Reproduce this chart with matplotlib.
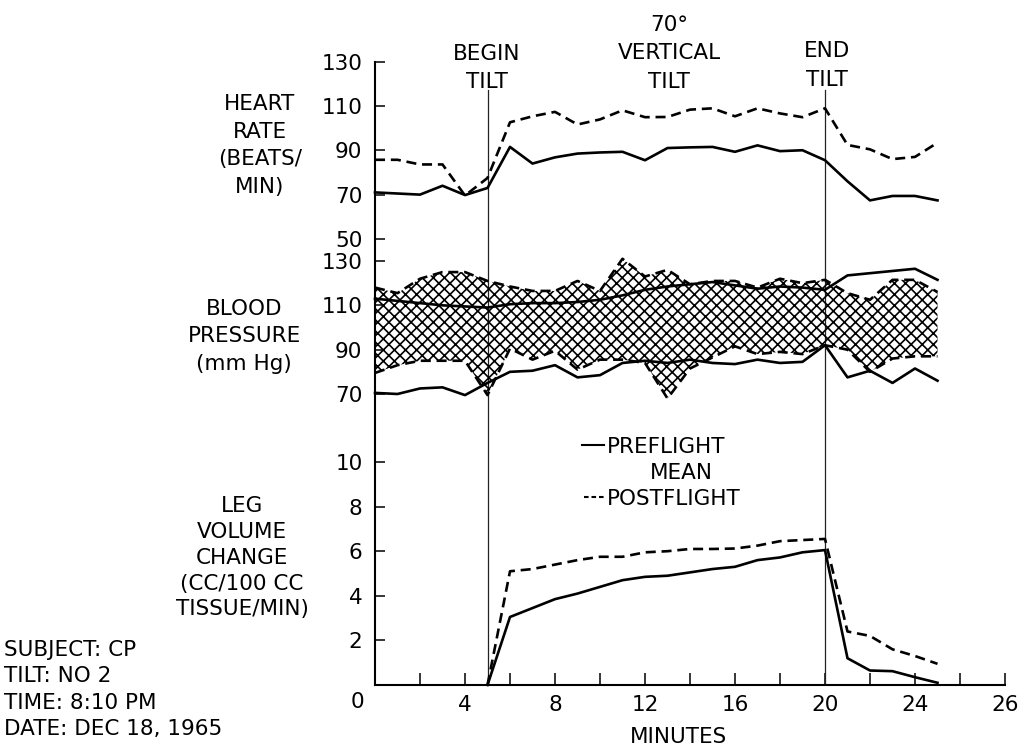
import numpy as np
import matplotlib.pyplot as plt
from matplotlib.lines import Line2D

plt.rcParams['font.family'] = ['DejaVu Sans']
plt.rcParams['hatch.linewidth'] = 1.2

# minutes of the record
minutes = np.arange(0, 26)
lv_minutes = np.arange(5, 26)

hr_pre = [71, 70.5, 70, 74, 69.8, 73, 91.5, 84, 86.8, 88.5, 89, 89.3, 85.5, 91,
          91.3, 91.5, 89.3, 92.2, 89.6, 90, 85.5, 76, 67.4, 69.4, 69.4, 67.4]
hr_post = [85.7, 85.7, 83.6, 83.6, 69.6, 77.5, 102.6, 105.3, 107.3, 101.6, 103.9, 108, 104.9,
           105, 108.3, 108.9, 105.3, 108.9, 106.6, 104.9, 108.9, 92.4, 90.4, 86, 87, 93.4]

bp_sys_pre = [113, 112, 111, 110, 109.5, 109, 110.5, 111, 111, 111.5, 112.5, 114.5, 117,
              118.5, 119.5, 120.5, 119, 117.5, 118.5, 118, 117, 123.5, 124.5, 125.5, 126.5, 121.5]
bp_dia_pre = [70.5, 70, 72.5, 73, 69.5, 75, 80, 80.5, 83, 77.5, 78.5, 84, 85, 84,
              85.5, 84, 83.5, 85.5, 84, 84.5, 92, 77.5, 80.5, 75, 81.5, 76]
bp_sys_post = [118, 115.5, 122, 125, 125, 121, 118.5, 116.5, 116.5, 121, 116.5, 131, 123,
               126, 119.5, 121, 121, 118, 122, 120, 121.5, 115.5, 112.5, 121.5, 121.5, 116]
bp_dia_post = [79.5, 83, 85, 85, 85, 69.5, 90.5, 85.5, 89.5, 81, 85.5, 85.5, 84, 68,
               81.5, 86.5, 91.5, 88, 89, 88, 92, 90, 80, 86, 87, 87]

lv_pre = [0, 3.05, 3.45, 3.85, 4.1, 4.4, 4.7, 4.85, 4.9, 5.05, 5.2, 5.3, 5.6, 5.72, 5.95,
          6.05, 1.2, 0.65, 0.62, 0.35, 0.1]
lv_post = [0, 5.1, 5.2, 5.4, 5.6, 5.75, 5.75, 5.95, 6.0, 6.1, 6.1, 6.12, 6.25, 6.45, 6.5,
           6.55, 2.4, 2.2, 1.6, 1.3, 0.95]

hr_ticks = [50, 70, 90, 110, 130]
bp_ticks = [70, 90, 110, 130]
lv_ticks = [2, 4, 6, 8, 10]
x_ticks = np.arange(0, 29, 2)
x_labels = ['', '', '4', '', '8', '', '12', '', '16', '', '20', '', '24', '', '26']
events = [5, 20]

W, H = 1026, 751
FS = 15.5
fig = plt.figure(figsize=(W / 100, H / 100), dpi=100)


def box(top, bottom, left=375, right=1005):
    return [left / W, 1 - bottom / H, (right - left) / W, (bottom - top) / H]


def panel(top, bottom, lo, hi, ticks):
    a = fig.add_axes(box(top, bottom))
    a.set_xlim(0, 28)
    a.set_ylim(lo, hi)
    a.patch.set_visible(False)
    for s in a.spines.values():
        s.set_visible(False)
    a.set_xticks([])
    a.set_yticks(ticks)
    a.tick_params(axis='y', direction='in', length=7, width=1.1, pad=9, labelsize=FS)
    return a


def lines_at(x, baselines, texts, ha='center'):
    for y, t in zip(baselines, texts):
        fig.text(x / W, 1 - y / H, t, ha=ha, va='baseline', fontsize=FS)


solid = dict(color='black', lw=1.9, clip_on=False)
dashed = dict(color='black', lw=1.9, dashes=(3.8, 2.2), clip_on=False)

# frame with the time axis
ax = fig.add_axes(box(61.5, 685))
ax.set_xlim(0, 28)
ax.set_ylim(0, 1)
ax.spines['top'].set_visible(False)
ax.spines['right'].set_visible(False)
ax.spines['left'].set_linewidth(1.5)
ax.spines['bottom'].set_linewidth(1.5)
ax.set_yticks([])
ax.set_xticks(x_ticks)
ax.set_xticklabels(x_labels, fontsize=FS)
ax.tick_params(axis='x', direction='in', length=9, width=1.1, pad=7)
for e in events:
    ax.axvline(e, ymin=0, ymax=(685 - 90) / (685 - 61.5), color='#222222', lw=0.9)
ax.text(-0.8, -0.027, '0', ha='center', va='center', fontsize=FS)
ax.text(13.5, -0.083, 'MINUTES', ha='center', va='center', fontsize=FS)

ax_hr = panel(61.5, 239, 50, 130, hr_ticks)
ax_hr.plot(minutes, hr_pre, **solid)
ax_hr.plot(minutes, hr_post, **dashed)

ax_bp = panel(261, 394, 70, 130, bp_ticks)
ax_bp.fill_between(minutes, bp_dia_post, bp_sys_post, facecolor='none',
                   edgecolor='black', hatch='xxx', lw=0, clip_on=False)
ax_bp.plot(minutes, bp_sys_post, **dashed)
ax_bp.plot(minutes, bp_dia_post, **dashed)
ax_bp.plot(minutes, bp_sys_pre, **solid)
ax_bp.plot(minutes, bp_dia_pre, **solid)

ax_lv = panel(462, 685, 0, 10, lv_ticks)
ax_lv.plot(lv_minutes, lv_pre, **solid)
ax_lv.plot(lv_minutes, lv_post, **dashed)

lines_at(487, [60, 88], ['BEGIN', 'TILT'])
lines_at(669, [31, 59, 88], ['70°', 'VERTICAL', 'TILT'])
lines_at(827, [57, 86], ['END', 'TILT'])
lines_at(260, [110, 138, 165, 193], ['HEART', 'RATE', '(BEATS/', 'MIN)'])
lines_at(244, [315, 342, 370], ['BLOOD', 'PRESSURE', '(mm Hg)'])
lines_at(242, [512, 538, 564, 590, 615],
         ['LEG', 'VOLUME', 'CHANGE', '(CC/100 CC', 'TISSUE/MIN)'])
lines_at(4, [656, 682, 709, 735],
         ['SUBJECT: CP', 'TILT: NO 2', 'TIME: 8:10 PM', 'DATE: DEC 18, 1965'], ha='left')

# legend
fig.add_artist(Line2D([582 / W, 604 / W], [1 - 445 / H] * 2, color='black', lw=1.5))
fig.add_artist(Line2D([584 / W, 604 / W], [1 - 497 / H] * 2, color='black', lw=1.5,
                      dashes=(2.2, 1.4)))
lines_at(607, [453, 505], ['PREFLIGHT', 'POSTFLIGHT'], ha='left')
lines_at(681, [479], ['MEAN'])

fig.savefig('out.png', dpi=100)
